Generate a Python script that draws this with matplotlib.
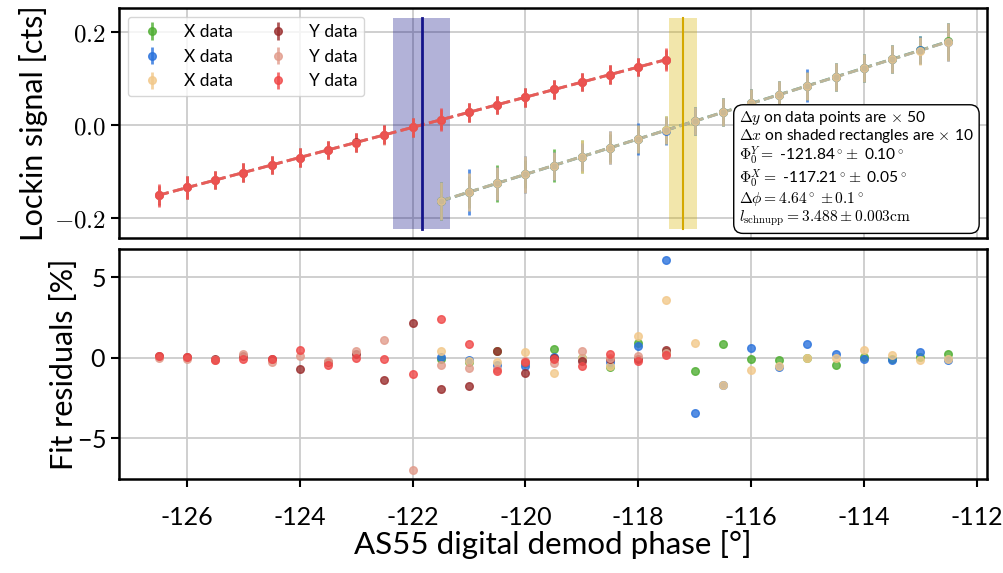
import numpy as np
import matplotlib
matplotlib.use("Agg")
import matplotlib.pyplot as plt
from matplotlib.ticker import FuncFormatter

plt.rcParams['font.family'] = ['Lato', 'DejaVu Sans']
plt.rcParams['mathtext.fontset'] = 'cm'
plt.rcParams['axes.formatter.use_mathtext'] = True

# demod phase settings [deg]
phase_y = [-126.5, -126.0, -125.5, -125.0, -124.5, -124.0, -123.5, -123.0, -122.5, -122.0,
           -121.5, -121.0, -120.5, -120.0, -119.5, -119.0, -118.5, -118.0, -117.5]
phase_x = [-121.5, -121.0, -120.5, -120.0, -119.5, -119.0, -118.5, -118.0, -117.5, -117.0,
           -116.5, -116.0, -115.5, -115.0, -114.5, -114.0, -113.5, -113.0, -112.5]

# lockin signal [cts]
x_sig_1 = [-0.163, -0.144, -0.125, -0.106, -0.087, -0.068, -0.049, -0.030, -0.011, 0.008,
           0.027, 0.046, 0.065, 0.084, 0.103, 0.122, 0.141, 0.160, 0.179]
x_sig_2 = [-0.163, -0.144, -0.125, -0.106, -0.087, -0.068, -0.049, -0.030, -0.012, 0.008,
           0.027, 0.046, 0.065, 0.084, 0.103, 0.122, 0.141, 0.160, 0.178]
x_sig_3 = [-0.163, -0.144, -0.125, -0.106, -0.087, -0.068, -0.049, -0.030, -0.011, 0.008,
           0.027, 0.046, 0.065, 0.084, 0.103, 0.122, 0.141, 0.159, 0.178]
y_sig_1 = [-0.151, -0.134, -0.118, -0.102, -0.086, -0.070, -0.054, -0.037, -0.021, -0.005,
           0.011, 0.027, 0.043, 0.059, 0.076, 0.092, 0.108, 0.124, 0.140]
y_sig_2 = [-0.150, -0.134, -0.118, -0.102, -0.086, -0.070, -0.054, -0.038, -0.022, -0.005,
           0.011, 0.027, 0.043, 0.059, 0.076, 0.092, 0.108, 0.124, 0.140]
y_sig_3 = [-0.151, -0.134, -0.118, -0.102, -0.086, -0.070, -0.054, -0.038, -0.021, -0.005,
           0.011, 0.027, 0.043, 0.059, 0.076, 0.092, 0.108, 0.124, 0.140]

# 1 sigma errors [cts], drawn x50
x_err_1 = [0.0008, 0.0007, 0.0008, 0.0006, 0.0007, 0.0007, 0.0006, 0.0006, 0.0006, 0.0006,
           0.0006, 0.0006, 0.0006, 0.0006, 0.0006, 0.0006, 0.0006, 0.0006, 0.0008]
x_err_2 = [0.0008, 0.0010, 0.0007, 0.0008, 0.0006, 0.0006, 0.0007, 0.0007, 0.0006, 0.0006,
           0.0006, 0.0006, 0.0006, 0.0007, 0.0006, 0.0006, 0.0006, 0.0006, 0.0008]
x_err_3 = [0.0008, 0.0008, 0.0007, 0.0008, 0.0006, 0.0007, 0.0007, 0.0006, 0.0006, 0.0006,
           0.0006, 0.0006, 0.0006, 0.0006, 0.0006, 0.0006, 0.0006, 0.0006, 0.0008]
y_err_1 = [0.0004, 0.0005, 0.0004, 0.0004, 0.0004, 0.0004, 0.0004, 0.0004, 0.0004, 0.0004,
           0.0004, 0.0004, 0.0004, 0.0004, 0.0004, 0.0004, 0.0004, 0.0004, 0.0004]
y_err_2 = [0.0004, 0.0005, 0.0004, 0.0004, 0.0004, 0.0004, 0.0004, 0.0004, 0.0004, 0.0004,
           0.0004, 0.0004, 0.0004, 0.0004, 0.0004, 0.0004, 0.0004, 0.0004, 0.0004]
y_err_3 = [0.0005, 0.0005, 0.0004, 0.0004, 0.0004, 0.0004, 0.0004, 0.0004, 0.0004, 0.0004,
           0.0005, 0.0004, 0.0004, 0.0004, 0.0004, 0.0004, 0.0004, 0.0004, 0.0005]

# fit residuals [%]
x_res_1 = [-0.08, -0.27, 0.45, -0.30, 0.52, 0.00, -0.60, 0.92, 0.35, -0.85,
           0.83, -0.08, -0.15, 0.00, -0.44, 0.02, -0.10, 0.05, 0.23]
x_res_2 = [0.04, -0.15, -0.46, -0.50, 0.02, -0.05, -0.23, 0.71, 6.10, -3.46,
           -1.69, 0.63, -0.60, 0.85, 0.21, -0.06, -0.15, 0.38, -0.15]
x_res_3 = [0.44, -0.20, -0.29, 0.38, -0.96, 0.00, -0.50, 1.38, 3.60, 0.90,
           -1.69, -0.75, -0.50, 0.00, 0.00, 0.48, 0.20, -0.15, -0.05]
y_res_1 = [0.10, 0.05, -0.05, 0.12, -0.10, -0.70, -0.29, 0.23, -1.38, 2.17,
           -1.92, -1.75, 0.40, -0.92, 0.00, -0.17, -0.05, -0.10, 0.48]
y_res_2 = [0.00, -0.10, -0.15, 0.25, -0.25, 0.10, -0.17, 0.44, 1.12, -6.98,
           -0.46, -0.65, -0.70, -0.20, -0.30, 0.44, 0.00, 0.12, 0.30]
y_res_3 = [0.10, 0.05, -0.15, -0.05, -0.10, 0.48, -0.46, -0.02, -0.06, -1.00,
           2.42, 0.83, -0.79, -0.29, -0.05, -0.48, 0.23, -0.19, 0.15]

phi0_y, dphi0_y = -121.84, 0.10
phi0_x, dphi0_x = -117.21, 0.05

x_colors = ['#4fae32', '#2a72dc', '#f2c88a']
y_colors = ['#9a2e2e', '#e29c8c', '#f04848']

fig = plt.figure(figsize=(10.04, 5.73), dpi=100)
ax1 = fig.add_axes([0.1188, 0.5841, 0.864, 0.4014])
ax2 = fig.add_axes([0.1188, 0.1635, 0.864, 0.4014], sharex=ax1)

sets = [(phase_x, x_sig_1, x_err_1, x_res_1, x_colors[0], 'X data'),
        (phase_x, x_sig_2, x_err_2, x_res_2, x_colors[1], 'X data'),
        (phase_x, x_sig_3, x_err_3, x_res_3, x_colors[2], 'X data'),
        (phase_y, y_sig_1, y_err_1, y_res_1, y_colors[0], 'Y data'),
        (phase_y, y_sig_2, y_err_2, y_res_2, y_colors[1], 'Y data'),
        (phase_y, y_sig_3, y_err_3, y_res_3, y_colors[2], 'Y data')]

for ph, sig, err, res, col, lab in sets:
    ph = np.array(ph)
    sig = np.array(sig)
    ax1.errorbar(ph, sig, yerr=50 * np.array(err), fmt='o', color=col, ms=5.5,
                 elinewidth=2, capsize=0, alpha=0.8, label=lab, zorder=3)
    p = np.polyfit(ph, sig, 1)
    ax1.plot(ph, np.polyval(p, ph), '--', color=col, lw=2, alpha=0.7, zorder=2)
    ax2.plot(ph, res, 'o', color=col, ms=5.5, alpha=0.8, zorder=3)

# fitted zero crossings, widths x10
ax1.axvspan(phi0_y - 5 * dphi0_y, phi0_y + 5 * dphi0_y, ymin=0.04, ymax=0.958,
            color='#000080', alpha=0.3, lw=0, zorder=1)
ax1.axvline(phi0_y, ymin=0.04, ymax=0.958, color='#14148a', lw=2, zorder=2)
ax1.axvspan(phi0_x - 5 * dphi0_x, phi0_x + 5 * dphi0_x, ymin=0.04, ymax=0.958,
            color='#d8b400', alpha=0.33, lw=0, zorder=1)
ax1.axvline(phi0_x, ymin=0.04, ymax=0.958, color='#d4a800', lw=1.5, zorder=2)

txt = ("$\\Delta y$ on data points are $\\times$ 50\n"
       "$\\Delta x$ on shaded rectangles are $\\times$ 10\n"
       "$\\Phi_0^Y =$ -121.84$^\\circ\\!\\pm$ 0.10$^\\circ$\n"
       "$\\Phi_0^X =$ -117.21$^\\circ\\!\\pm$ 0.05$^\\circ$\n"
       "$\\Delta\\phi = 4.64^\\circ \\pm 0.1^\\circ$\n"
       "$l_\\mathrm{schnupp} = 3.488 \\pm 0.003\\mathrm{cm}$")
ax1.text(0.985, 0.045, txt, transform=ax1.transAxes, ha='right', va='bottom',
         multialignment='left', fontsize=11.2, linespacing=1.02, zorder=5,
         bbox=dict(boxstyle='round,pad=0.35,rounding_size=0.6', fc='white', ec='black', lw=1))

ax1.legend(loc='upper left', ncol=2, fontsize=12.5, framealpha=0.8,
           handletextpad=0.8, handlelength=2.0, columnspacing=1.6, borderaxespad=0.5)

ax1.set_xlim(-127.2, -111.82)
ax1.set_ylim(-0.243, 0.25)
ax1.set_yticks([-0.2, 0.0, 0.2])
ax1.yaxis.set_major_formatter(FuncFormatter(lambda v, p: '$%.1f$' % v))
ax2.set_ylim(-7.56, 6.75)
ax2.set_yticks([-5, 0, 5])
ax2.set_xticks([-126, -124, -122, -120, -118, -116, -114, -112])
ax2.xaxis.set_major_formatter(FuncFormatter(lambda v, p: '%d' % v))

ax1.set_ylabel('Lockin signal [cts]', fontsize=22)
ax2.set_ylabel('Fit residuals [%]', fontsize=22, labelpad=-1)
ax2.set_xlabel('AS55 digital demod phase [°]', fontsize=22.5, labelpad=1)

for ax in (ax1, ax2):
    ax.grid(True, color='#cccccc', lw=1.3)
    ax.set_axisbelow(True)
    for s in ax.spines.values():
        s.set_linewidth(1.8)
    ax.tick_params(direction='out', length=6, width=1.5, labelsize=18)
ax1.tick_params(axis='x', length=0, labelbottom=False)
ax2.tick_params(axis='x', length=6, pad=13)

fig.savefig('out.png', dpi=100)
